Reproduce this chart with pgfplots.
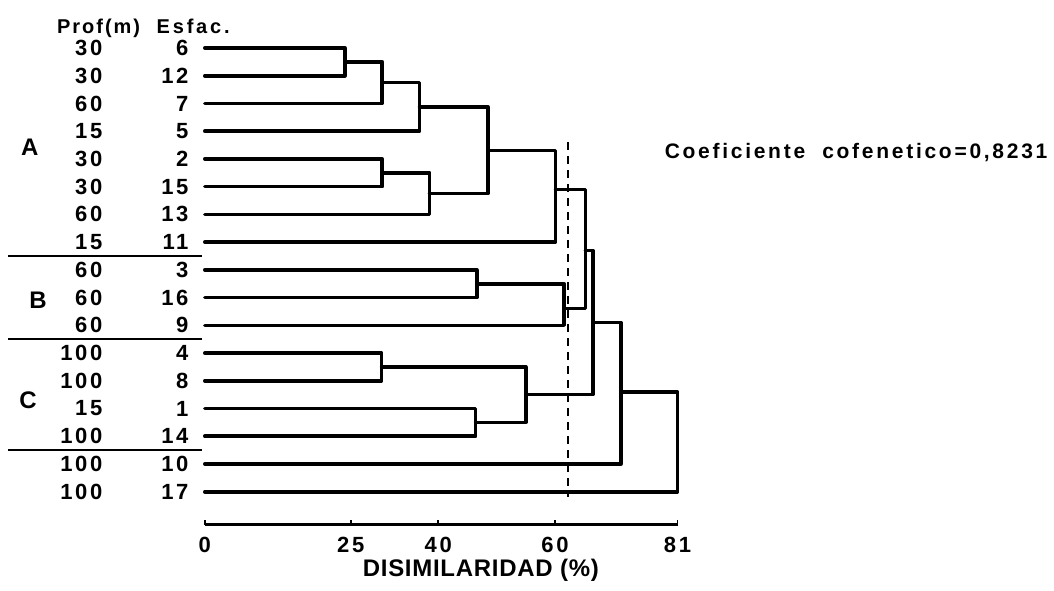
\documentclass[border=0pt]{standalone}
\usepackage{pgfplots}
\pgfplotsset{compat=1.18}
\usepackage{fontspec}
\setmainfont{Liberation Sans}
\newfontfamily\lf{Liberation Sans}
\newcommand\ls[2]{\lf\bfseries\fontsize{#1}{#1}\selectfont\addfontfeature{LetterSpace=#2}}
\newcommand\tf{\ls{11}{12}}
\newcommand\gf{\ls{12}{0}}
\begin{document}
\begin{tikzpicture}
\begin{axis}[
 scale only axis, width=236.5pt, height=245.45pt,
 xmin=0, xmax=81, ymin=-18.19, ymax=-0.5,
 axis x line=bottom, axis y line=none,
 axis line style={-, line width=1.5pt},
 xtick={0,25,40,60,81}, xticklabels={0,25,40,60,81},
 tick align=inside, major tick length=2.5pt, tick style={line width=1pt, black},
 xticklabel style={font=\tf, yshift=-2.5pt},
 clip=false,
 dend/.style={black, solid, mark=none, line width=1.8pt, line join=round, line cap=round},
]
% invisible frame fixing the picture size
\path (axis cs:-35.1,0.73) rectangle (axis cs:145.38,-20.57);
% dendrogram brackets
\addplot[dend] coordinates {(0,-1) (24,-1) (24,-2) (0,-2)};
\addplot[dend] coordinates {(24,-1.5) (30.4,-1.5) (30.4,-3) (0,-3)};
\addplot[dend] coordinates {(30.4,-2.25) (36.8,-2.25) (36.8,-4) (0,-4)};
\addplot[dend] coordinates {(0,-5) (30.4,-5) (30.4,-6) (0,-6)};
\addplot[dend] coordinates {(30.4,-5.5) (38.5,-5.5) (38.5,-7) (0,-7)};
\addplot[dend] coordinates {(36.8,-3.125) (48.5,-3.125) (48.5,-6.25) (38.5,-6.25)};
\addplot[dend] coordinates {(48.5,-4.69) (60.1,-4.69) (60.1,-8) (0,-8)};
\addplot[dend] coordinates {(0,-9) (46.6,-9) (46.6,-10) (0,-10)};
\addplot[dend] coordinates {(46.6,-9.5) (61.6,-9.5) (61.6,-11) (0,-11)};
\addplot[dend] coordinates {(60.1,-6.1) (65.2,-6.1) (65.2,-10.4) (61.6,-10.4)};
\addplot[dend] coordinates {(0,-12) (30.3,-12) (30.3,-13) (0,-13)};
\addplot[dend] coordinates {(0,-14) (46.4,-14) (46.4,-15) (0,-15)};
\addplot[dend] coordinates {(30.3,-12.5) (55,-12.5) (55,-14.5) (46.4,-14.5)};
\addplot[dend] coordinates {(65.2,-8.3) (66.5,-8.3) (66.5,-13.5) (55,-13.5)};
\addplot[dend] coordinates {(66.5,-10.9) (71.3,-10.9) (71.3,-16) (0,-16)};
\addplot[dend] coordinates {(71.3,-13.4) (81,-13.4) (81,-17) (0,-17)};
% cut line
\addplot[black, mark=none, line width=0.8pt, dash pattern=on 4pt off 3pt] coordinates {(62.2,-4.4) (62.2,-17.2)};
% headers
\node[font=\ls{10}{10}, anchor=base] at (axis cs:-18.2,-0.46) {Prof(m)};
\node[font=\ls{10}{14}, anchor=base] at (axis cs:-2.0,-0.46) {Esfac.};
% depth column
\begin{scope}[every node/.style={font=\tf, anchor=east, inner sep=0pt}]
\node at (axis cs:-17.5,-1) {30};
\node at (axis cs:-17.5,-2) {30};
\node at (axis cs:-17.5,-3) {60};
\node at (axis cs:-17.5,-4) {15};
\node at (axis cs:-17.5,-5) {30};
\node at (axis cs:-17.5,-6) {30};
\node at (axis cs:-17.5,-7) {60};
\node at (axis cs:-17.5,-8) {15};
\node at (axis cs:-17.5,-9) {60};
\node at (axis cs:-17.5,-10) {60};
\node at (axis cs:-17.5,-11) {60};
\node at (axis cs:-17.5,-12) {100};
\node at (axis cs:-17.5,-13) {100};
\node at (axis cs:-17.5,-14) {15};
\node at (axis cs:-17.5,-15) {100};
\node at (axis cs:-17.5,-16) {100};
\node at (axis cs:-17.5,-17) {100};
% sample column
\node at (axis cs:-2.74,-1) {6};
\node at (axis cs:-2.74,-2) {12};
\node at (axis cs:-2.74,-3) {7};
\node at (axis cs:-2.74,-4) {5};
\node at (axis cs:-2.74,-5) {2};
\node at (axis cs:-2.74,-6) {15};
\node at (axis cs:-2.74,-7) {13};
\node at (axis cs:-2.74,-8) {11};
\node at (axis cs:-2.74,-9) {3};
\node at (axis cs:-2.74,-10) {16};
\node at (axis cs:-2.74,-11) {9};
\node at (axis cs:-2.74,-12) {4};
\node at (axis cs:-2.74,-13) {8};
\node at (axis cs:-2.74,-14) {1};
\node at (axis cs:-2.74,-15) {14};
\node at (axis cs:-2.74,-16) {10};
\node at (axis cs:-2.74,-17) {17};
\end{scope}
% group letters
\node[font=\gf] at (axis cs:-30.0,-4.57) {A};
\node[font=\gf] at (axis cs:-28.6,-10.1) {B};
\node[font=\gf] at (axis cs:-30.3,-13.7) {C};
% group separators
\draw[line width=1pt] (axis cs:-33.7,-8.5) -- (axis cs:-0.5,-8.5);
\draw[line width=1pt] (axis cs:-33.7,-11.5) -- (axis cs:-0.5,-11.5);
\draw[line width=1pt] (axis cs:-33.7,-15.5) -- (axis cs:-0.5,-15.5);
% annotation and axis title
\node[font=\ls{10.5}{13}] at (axis cs:111.6,-4.78) {Coeficiente\ \ cofenetico=0,8231};
\node[font=\ls{12}{3}] at (axis cs:47.3,-19.85) {DISIMILARIDAD (\%)};
\end{axis}
\end{tikzpicture}
\end{document}
